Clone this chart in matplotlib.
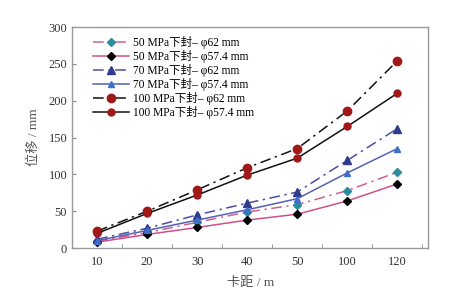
import matplotlib.pyplot as plt
from matplotlib.ticker import FixedLocator

plt.rcParams["font.family"] = ["Liberation Serif", "Noto Sans CJK SC"]

spans = ["10", "20", "30", "40", "50", "100", "120"]

p50_d62 = [9.5, 21, 35, 49, 59, 78, 103]
p50_d574 = [8, 18.5, 28, 38, 46, 64, 87]
p70_d62 = [12, 27, 45, 61, 76, 119, 162]
p70_d574 = [10, 24, 38, 52, 67, 102, 135]
p100_d62 = [23, 50, 79, 109, 135, 186, 254]
p100_d574 = [20, 47, 72, 99, 122, 165, 210]

labels = [
    "50 MPa下封– φ62 mm",
    "50 MPa下封– φ57.4 mm",
    "70 MPa下封– φ62 mm",
    "70 MPa下封– φ57.4 mm",
    "100 MPa下封– φ62 mm",
    "100 MPa下封– φ57.4 mm",
]

DASHDOT = (0, (7, 3, 1.5, 3))
series = [
    (p50_d62, "#d0608f", DASHDOT, "D", "#2a8c9c", 4.5),
    (p50_d574, "#d0508a", "-", "D", "#000000", 4.0),
    (p70_d62, "#4a4f9e", DASHDOT, "^", "#2e3a8c", 6.0),
    (p70_d574, "#5560b8", "-", "^", "#3f6fc8", 4.5),
    (p100_d62, "#111111", DASHDOT, "o", "#a01818", 6.0),
    (p100_d574, "#111111", "-", "o", "#a01818", 5.0),
]

fig = plt.figure(figsize=(4.59, 3.0), dpi=100)
ax = fig.add_axes([0.157, 0.173, 0.776, 0.737])

x = list(range(1, len(spans) + 1))
for (vals, lc, ls, mk, mc, ms), lab in zip(series, labels):
    ax.plot(x, vals, color=lc, linestyle=ls, linewidth=1.1,
            marker=mk, markersize=ms, markerfacecolor=mc,
            markeredgecolor=mc, label=lab)

ax.set_xlim(0.5, 7.62)
ax.set_ylim(0, 300)
ax.set_xticks(x)
ax.set_xticklabels(spans)
ax.xaxis.set_minor_locator(FixedLocator([i + 0.5 for i in range(0, 8)]))
ax.set_yticks(range(0, 301, 50))
ax.tick_params(axis="x", which="major", length=0, pad=6, labelsize=9,
               colors="#333333")
ax.tick_params(axis="x", which="minor", direction="in", length=3,
               color="#888888")
ax.tick_params(axis="y", direction="in", length=3, color="#888888",
               labelsize=9, labelcolor="#333333")
for sp in ax.spines.values():
    sp.set_color("#999999")
    sp.set_linewidth(1.0)

ax.set_xlabel("卡距 / m", fontsize=9.5, color="#555555", labelpad=6)
ax.set_ylabel("位移 / mm", fontsize=9.5, color="#555555", labelpad=6)

ax.legend(loc="upper left", frameon=False, fontsize=8.3,
          handlelength=3.2, handletextpad=0.3, labelspacing=0.08,
          borderaxespad=0.3, bbox_to_anchor=(0.035, 0.995))

fig.savefig("out.png", dpi=100)
